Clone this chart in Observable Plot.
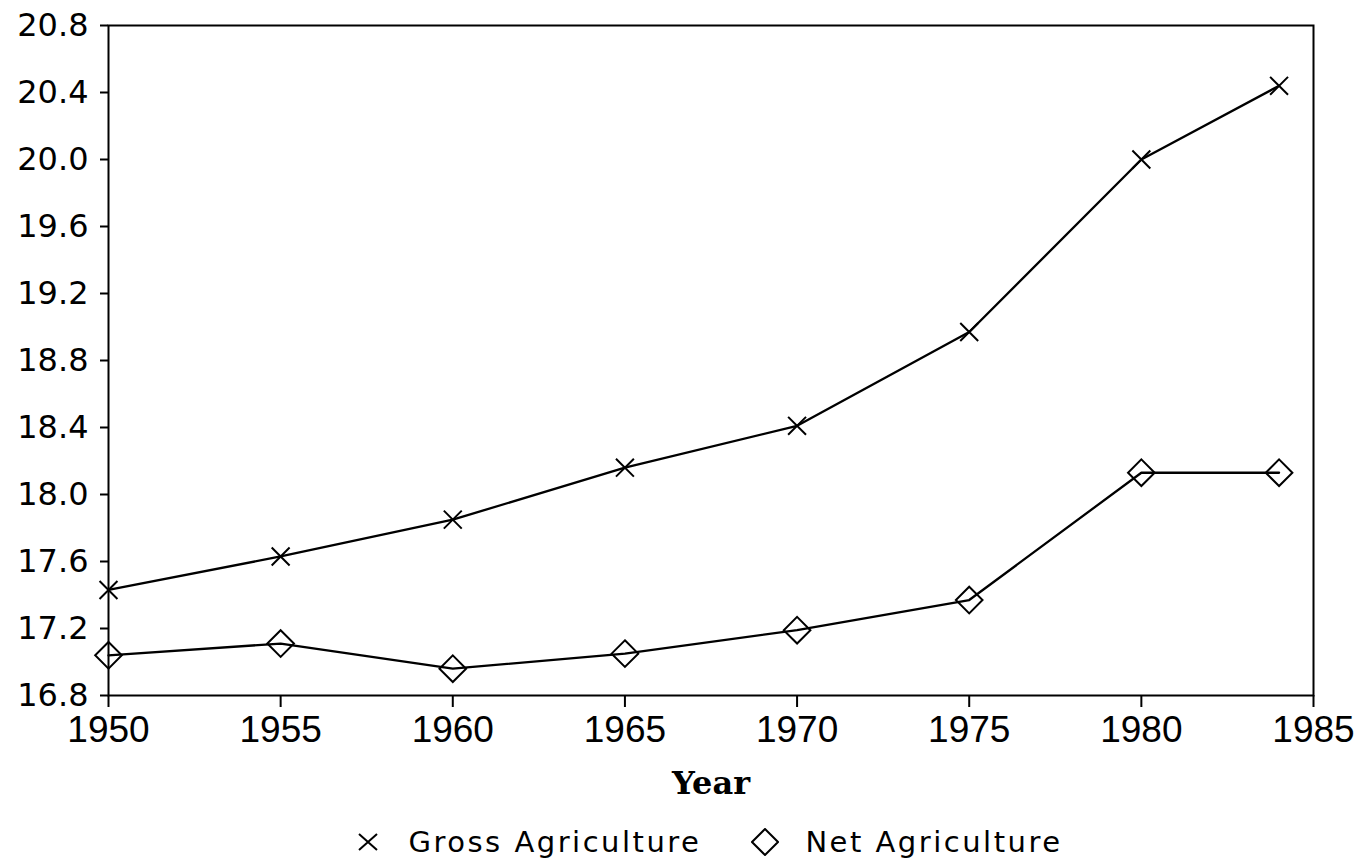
<!DOCTYPE html>
<html>
<head>
<meta charset="utf-8">
<script src="https://cdn.jsdelivr.net/npm/d3@7"></script>
<script src="https://cdn.jsdelivr.net/npm/@observablehq/plot@0.6"></script>
<style>
  html, body { margin: 0; padding: 0; background: #fff; }
  #wrap { position: relative; width: 1366px; height: 863px; }
  g[aria-label="x-axis tick label"] text { font-family: "Liberation Sans", Arial, sans-serif; font-size: 37px; fill: #000; }
  g[aria-label="y-axis tick label"] text { font-family: "DejaVu Sans", sans-serif; font-size: 32px; fill: #000; }
  #legend { position: absolute; left: 108px; width: 1205px; top: 822px; height: 40px;
    display: flex; justify-content: center; align-items: center;
    font-family: "DejaVu Sans", sans-serif; font-size: 29px; letter-spacing: 2.5px; color: #000; }
  #legend svg { display: block; }
</style>
</head>
<body>
<div id="wrap">
  <div id="chart"></div>
  <div id="legend"></div>
</div>
<script>
const years = [1950, 1955, 1960, 1965, 1970, 1975, 1980, 1984];
const grossAgriculture = [17.43, 17.63, 17.85, 18.16, 18.41, 18.97, 20.00, 20.44];
const netAgriculture = [17.04, 17.11, 16.96, 17.05, 17.19, 17.37, 18.13, 18.13];
const xTicks = [1950, 1955, 1960, 1965, 1970, 1975, 1980, 1985];
const yTicks = [16.8, 17.2, 17.6, 18.0, 18.4, 18.8, 19.2, 19.6, 20.0, 20.4, 20.8];
const seriesNames = ["Gross Agriculture", "Net Agriculture"];
const xLabel = "Year";

const gross = years.map((x, i) => ({year: x, value: grossAgriculture[i]}));
const net = years.map((x, i) => ({year: x, value: netAgriculture[i]}));

const chart = Plot.plot({
  width: 1366,
  height: 810,
  marginLeft: 108,
  marginRight: 53,
  marginTop: 25,
  marginBottom: 115,
  style: {background: "#fff", color: "#000", overflow: "visible"},
  x: {domain: [1950, 1985], ticks: xTicks, tickFormat: d => String(d)},
  y: {domain: [16.8, 20.8], ticks: yTicks, tickFormat: d3.format(".1f")},
  marks: [
    Plot.axisX({ticks: xTicks, tickFormat: d => String(d), tickSize: 12, tickPadding: 8, strokeWidth: 2, label: null}),
    Plot.axisY({ticks: yTicks, tickFormat: d3.format(".1f"), tickSize: 8, tickPadding: 12, strokeWidth: 2, label: null}),
    Plot.frame({stroke: "#000", strokeWidth: 2}),
    Plot.line(gross, {x: "year", y: "value", stroke: "#000", strokeWidth: 2.3}),
    Plot.dot(gross, {x: "year", y: "value", symbol: "times", r: 8.2, stroke: "#000", strokeWidth: 2}),
    Plot.line(net, {x: "year", y: "value", stroke: "#000", strokeWidth: 2.3}),
    Plot.dot(net, {x: "year", y: "value", symbol: "diamond2", r: 12, fill: "none", stroke: "#000", strokeWidth: 2}),
    Plot.text([xLabel], {frameAnchor: "bottom", dy: 88, text: d => d, fontFamily: "DejaVu Serif", fontWeight: "bold", fontSize: 32, fill: "#000", lineAnchor: "middle", style: "letter-spacing:3px"})
  ]
});
document.getElementById("chart").appendChild(chart);

const legend = document.getElementById("legend");
const crossSvg = `<svg width="20" height="18" viewBox="0 0 20 18"><path d="M1,1L19,17M1,17L19,1" stroke="#000" stroke-width="2"/></svg>`;
const diamondSvg = `<svg width="28" height="28" viewBox="0 0 28 28"><path d="M14,1L27,14L14,27L1,14Z" fill="none" stroke="#000" stroke-width="2"/></svg>`;
legend.innerHTML =
  `${crossSvg}<span style="margin-left:30px">${seriesNames[0]}</span>` +
  `<span style="margin-left:50px">${diamondSvg}</span><span style="margin-left:26px">${seriesNames[1]}</span>`;
</script>
</body>
</html>
